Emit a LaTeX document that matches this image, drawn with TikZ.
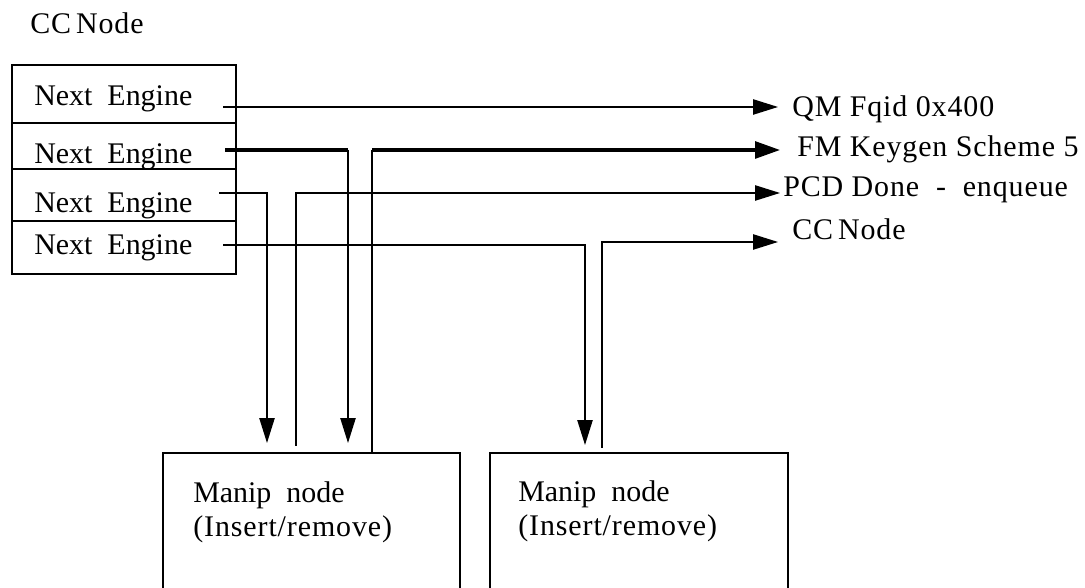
\documentclass[tikz,border=0pt]{standalone}
\usepackage{fontspec}
\setmainfont{Liberation Serif}
\usetikzlibrary{arrows.meta, positioning}
\definecolor{ink}{HTML}{000000}

\begin{document}
\begin{tikzpicture}[
    every node/.style={font=\fontsize{21.3}{24.9}\selectfont, text=ink, inner sep=0pt},
    lbl/.style={anchor=base west},
    wide/.style={lbl, font=\fontsize{21.3}{24.9}\selectfont\addfontfeature{LetterSpace=3}},
    frame/.style={draw=ink, line width=1.1pt},
    wire/.style={draw=ink, line width=1pt},
    fat/.style={draw=ink, line width=2.2pt},
    arr/.style={wire, -{Triangle[length=0.62cm, width=0.38cm]}},
    fatarr/.style={fat, -{Triangle[length=0.62cm, width=0.42cm]}},
]
\useasboundingbox (0,0) rectangle (27.125,14.7);

\node[wide] (ccTitle) at (0.75,13.85) {CC\,Node};

% ================================================== the CC node table
\draw[frame] (0.30,7.85) rectangle (5.90,13.075);
\foreach \y in {11.625,10.475,9.175}{
  \draw[frame] (0.30,\y) -- (5.90,\y);}
\foreach \i/\y in {1/12.05, 2/10.6, 3/9.375, 4/8.325}{
  \node[lbl] (ne\i) at (0.85,\y) {Next\ \ Engine};}

% where the wires leave the rows
\coordinate (s1) at (5.575,12.025);
\coordinate (s2) at (5.625,10.95);
\coordinate (s3) at (5.475,9.875);
\coordinate (s4) at (5.575,8.575);

% ================================================== the targets on the right
\node[wide] (qm)  at (19.80,11.775) {QM Fqid 0x400};
\node[wide] (fm)  at (19.925,10.775) {FM Keygen Scheme 5};
\node[wide] (pcd) at (19.575,9.775) {PCD Done\ \ -\ \ enqueue};
\node[wide] (cc)  at (19.80,8.70) {CC\,Node};

\coordinate (t1) at (19.45,12.025);
\coordinate (t2) at (19.50,10.95);
\coordinate (t3) at (19.50,9.875);
\coordinate (t4) at (19.45,8.65);

% ================================================== the two manip nodes
\draw[frame] (4.075,-0.5) rectangle (11.5,3.375);
\draw[frame] (12.25,-0.5) rectangle (19.7,3.375);
\node[lbl] (mn1) at (4.825,2.125) {Manip\ \ node};
\node[wide] (ir1) at (4.825,1.275) {(Insert/remove)};
\node[lbl] (mn2) at (12.95,2.15) {Manip\ \ node};
\node[wide] (ir2) at (12.95,1.30) {(Insert/remove)};

% ends of the wires above the boxes
\coordinate (d2) at (8.70,3.625);
\coordinate (d3) at (6.675,3.625);
\coordinate (d4) at (14.625,3.575);
\coordinate (u1) at (7.40,3.55);
\coordinate (u2) at (9.30,3.375);
\coordinate (u3) at (15.05,3.50);
\coordinate (c2) at (8.70,10.95);
\coordinate (c5) at (9.30,10.95);

% ================================================== wiring
\draw[arr] (s1) -- (t1);
\draw[fat] (s2) -- (c2);
\draw[arr] (c2) -- (d2);
\draw[arr] (s3) -| (d3);
\draw[arr] (s4) -| (d4);
\draw[arr] (u1) |- (t3);
\draw[wire] (u2) -- (c5);
\draw[fatarr] (c5) -- (t2);
\draw[arr] (u3) |- (t4);

\end{tikzpicture}
\end{document}
